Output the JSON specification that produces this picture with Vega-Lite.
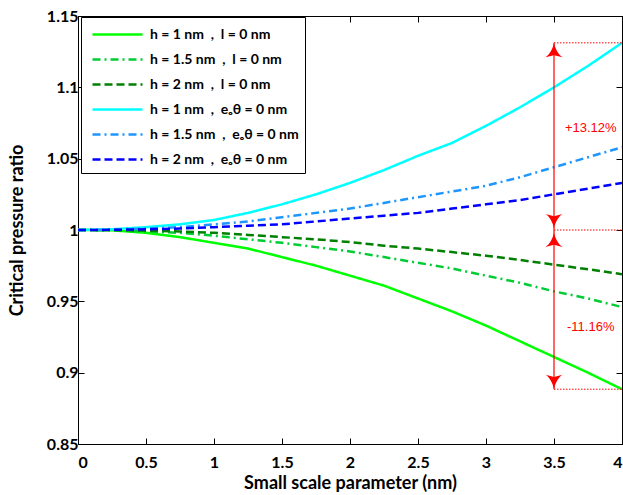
{
  "$schema": "https://vega.github.io/schema/vega-lite/v6.json",
  "width": 544,
  "height": 428,
  "autosize": {"type": "none"},
  "padding": {"left": 78, "top": 16, "right": 1, "bottom": 51},
  "background": "white",
  "config": {
    "view": {"stroke": "black", "strokeWidth": 1},
    "font": "Lato",
    "axis": {
      "grid": false,
      "domainColor": "black",
      "domainWidth": 1,
      "tickColor": "black",
      "tickWidth": 1,
      "tickSize": -6,
      "labelFont": "Lato",
      "labelFontWeight": "bold",
      "labelFontSize": 16,
      "labelColor": "black",
      "titleFont": "Lato",
      "titleFontWeight": "bold",
      "titleFontSize": 18,
      "titleColor": "black"
    }
  },
  "datasets": {
    "curves": [
      {"s": "A", "x": 0, "y": 1}, {"s": "A", "x": 0.25, "y": 0.9998}, {"s": "A", "x": 0.5, "y": 0.998}, {"s": "A", "x": 0.75, "y": 0.995},
      {"s": "A", "x": 1, "y": 0.991}, {"s": "A", "x": 1.25, "y": 0.987}, {"s": "A", "x": 1.5, "y": 0.981}, {"s": "A", "x": 1.75, "y": 0.975},
      {"s": "A", "x": 2, "y": 0.968}, {"s": "A", "x": 2.25, "y": 0.961}, {"s": "A", "x": 2.5, "y": 0.952}, {"s": "A", "x": 2.75, "y": 0.943},
      {"s": "A", "x": 3, "y": 0.933}, {"s": "A", "x": 3.25, "y": 0.922}, {"s": "A", "x": 3.5, "y": 0.911}, {"s": "A", "x": 3.75, "y": 0.9},
      {"s": "A", "x": 4, "y": 0.8884},
      {"s": "B", "x": 0, "y": 1}, {"s": "B", "x": 0.25, "y": 0.9998}, {"s": "B", "x": 0.5, "y": 0.999}, {"s": "B", "x": 0.75, "y": 0.998},
      {"s": "B", "x": 1, "y": 0.996}, {"s": "B", "x": 1.25, "y": 0.9935}, {"s": "B", "x": 1.5, "y": 0.991}, {"s": "B", "x": 1.75, "y": 0.988},
      {"s": "B", "x": 2, "y": 0.985}, {"s": "B", "x": 2.25, "y": 0.981}, {"s": "B", "x": 2.5, "y": 0.977}, {"s": "B", "x": 2.75, "y": 0.973},
      {"s": "B", "x": 3, "y": 0.968}, {"s": "B", "x": 3.25, "y": 0.963}, {"s": "B", "x": 3.5, "y": 0.957}, {"s": "B", "x": 3.75, "y": 0.952},
      {"s": "B", "x": 4, "y": 0.946},
      {"s": "C", "x": 0, "y": 1}, {"s": "C", "x": 0.25, "y": 1}, {"s": "C", "x": 0.5, "y": 0.9995}, {"s": "C", "x": 0.75, "y": 0.999},
      {"s": "C", "x": 1, "y": 0.998}, {"s": "C", "x": 1.25, "y": 0.9965}, {"s": "C", "x": 1.5, "y": 0.995}, {"s": "C", "x": 1.75, "y": 0.9935},
      {"s": "C", "x": 2, "y": 0.9915}, {"s": "C", "x": 2.25, "y": 0.989}, {"s": "C", "x": 2.5, "y": 0.987}, {"s": "C", "x": 2.75, "y": 0.9845},
      {"s": "C", "x": 3, "y": 0.982}, {"s": "C", "x": 3.25, "y": 0.979}, {"s": "C", "x": 3.5, "y": 0.9757}, {"s": "C", "x": 3.75, "y": 0.9725},
      {"s": "C", "x": 4, "y": 0.969},
      {"s": "D", "x": 0, "y": 1}, {"s": "D", "x": 0.25, "y": 1.0005}, {"s": "D", "x": 0.5, "y": 1.002}, {"s": "D", "x": 0.75, "y": 1.004},
      {"s": "D", "x": 1, "y": 1.007}, {"s": "D", "x": 1.25, "y": 1.012}, {"s": "D", "x": 1.5, "y": 1.018}, {"s": "D", "x": 1.75, "y": 1.025},
      {"s": "D", "x": 2, "y": 1.033}, {"s": "D", "x": 2.25, "y": 1.042}, {"s": "D", "x": 2.5, "y": 1.052}, {"s": "D", "x": 2.75, "y": 1.061},
      {"s": "D", "x": 3, "y": 1.073}, {"s": "D", "x": 3.25, "y": 1.086}, {"s": "D", "x": 3.5, "y": 1.1}, {"s": "D", "x": 3.75, "y": 1.115},
      {"s": "D", "x": 4, "y": 1.1312},
      {"s": "E", "x": 0, "y": 1}, {"s": "E", "x": 0.25, "y": 1.0003}, {"s": "E", "x": 0.5, "y": 1.001}, {"s": "E", "x": 0.75, "y": 1.002},
      {"s": "E", "x": 1, "y": 1.004}, {"s": "E", "x": 1.25, "y": 1.006}, {"s": "E", "x": 1.5, "y": 1.009}, {"s": "E", "x": 1.75, "y": 1.012},
      {"s": "E", "x": 2, "y": 1.015}, {"s": "E", "x": 2.25, "y": 1.019}, {"s": "E", "x": 2.5, "y": 1.023}, {"s": "E", "x": 2.75, "y": 1.027},
      {"s": "E", "x": 3, "y": 1.031}, {"s": "E", "x": 3.25, "y": 1.037}, {"s": "E", "x": 3.5, "y": 1.044}, {"s": "E", "x": 3.75, "y": 1.051},
      {"s": "E", "x": 4, "y": 1.058},
      {"s": "F", "x": 0, "y": 1}, {"s": "F", "x": 0.25, "y": 1.0001}, {"s": "F", "x": 0.5, "y": 1.0005}, {"s": "F", "x": 0.75, "y": 1.001},
      {"s": "F", "x": 1, "y": 1.002}, {"s": "F", "x": 1.25, "y": 1.003}, {"s": "F", "x": 1.5, "y": 1.004}, {"s": "F", "x": 1.75, "y": 1.006},
      {"s": "F", "x": 2, "y": 1.008}, {"s": "F", "x": 2.25, "y": 1.01}, {"s": "F", "x": 2.5, "y": 1.012}, {"s": "F", "x": 2.75, "y": 1.015},
      {"s": "F", "x": 3, "y": 1.018}, {"s": "F", "x": 3.25, "y": 1.021}, {"s": "F", "x": 3.5, "y": 1.025}, {"s": "F", "x": 3.75, "y": 1.029},
      {"s": "F", "x": 4, "y": 1.033}
    ]
  },
  "resolve": {"axis": {"x": "independent", "y": "independent"}},
  "layer": [
    {
      "data": {"name": "curves"},
      "transform": [
        {"lookup": "s", "from": {"data": {"values": [
          {"s": "A", "label": "h = 1 nm\u00a0 ,\u00a0 l = 0 nm"},
          {"s": "B", "label": "h = 1.5 nm\u00a0 ,\u00a0 l = 0 nm"},
          {"s": "C", "label": "h = 2 nm\u00a0 ,\u00a0 l = 0 nm"},
          {"s": "D", "label": "h = 1 nm\u00a0 ,\u00a0 e\u2092\u03b8 = 0 nm"},
          {"s": "E", "label": "h = 1.5 nm\u00a0 ,\u00a0 e\u2092\u03b8 = 0 nm"},
          {"s": "F", "label": "h = 2 nm\u00a0 ,\u00a0 e\u2092\u03b8 = 0 nm"}
        ]}, "key": "s", "fields": ["label"]}}
      ],
      "mark": {"type": "line", "strokeWidth": 2.5, "clip": true},
      "encoding": {
        "x": {
          "field": "x", "type": "quantitative",
          "scale": {"domain": [0, 4], "nice": false, "zero": false},
          "axis": {"orient": "bottom", "values": [0, 0.5, 1, 1.5, 2, 2.5, 3, 3.5, 4], "format": "~g", "labelPadding": 16, "title": "Small scale parameter (nm)", "titlePadding": 4}
        },
        "y": {
          "field": "y", "type": "quantitative",
          "scale": {"domain": [0.85, 1.15], "nice": false, "zero": false},
          "axis": {"orient": "left", "values": [0.85, 0.9, 0.95, 1, 1.05, 1.1, 1.15], "format": "~g", "labelPadding": 6, "title": "Critical pressure ratio", "titlePadding": 20}
        },
        "color": {
          "field": "label", "type": "nominal", "sort": null,
          "scale": {
            "domain": ["h = 1 nm\u00a0 ,\u00a0 l = 0 nm", "h = 1.5 nm\u00a0 ,\u00a0 l = 0 nm", "h = 2 nm\u00a0 ,\u00a0 l = 0 nm", "h = 1 nm\u00a0 ,\u00a0 e\u2092\u03b8 = 0 nm", "h = 1.5 nm\u00a0 ,\u00a0 e\u2092\u03b8 = 0 nm", "h = 2 nm\u00a0 ,\u00a0 e\u2092\u03b8 = 0 nm"],
            "range": ["#00ff00", "#00cc33", "#008000", "#00ffff", "#1e96ff", "#0000ff"]
          },
          "legend": {
            "title": null, "orient": "none", "legendX": 3, "legendY": 1,
            "strokeColor": "black", "fillColor": "white", "padding": 6,
            "symbolType": "M-2.5,0H2.5", "symbolSize": 400, "symbolStrokeWidth": 2.5, "symbolOffset": 19,
            "labelFont": "Lato", "labelFontWeight": "bold", "labelFontSize": 14, "labelColor": "black",
            "labelLimit": 300, "rowPadding": 6, "labelOffset": 21
          }
        },
        "strokeDash": {
          "field": "label", "type": "nominal", "sort": null,
          "scale": {
            "domain": ["h = 1 nm\u00a0 ,\u00a0 l = 0 nm", "h = 1.5 nm\u00a0 ,\u00a0 l = 0 nm", "h = 2 nm\u00a0 ,\u00a0 l = 0 nm", "h = 1 nm\u00a0 ,\u00a0 e\u2092\u03b8 = 0 nm", "h = 1.5 nm\u00a0 ,\u00a0 e\u2092\u03b8 = 0 nm", "h = 2 nm\u00a0 ,\u00a0 e\u2092\u03b8 = 0 nm"],
            "range": [[1, 0], [8, 4, 2, 4], [8, 4], [1, 0], [8, 4, 2, 4], [8, 4]]
          },
          "legend": {
            "title": null, "orient": "none", "legendX": 3, "legendY": 1,
            "strokeColor": "black", "fillColor": "white", "padding": 6,
            "symbolType": "M-2.5,0H2.5", "symbolSize": 400, "symbolStrokeWidth": 2.5, "symbolOffset": 19,
            "labelFont": "Lato", "labelFontWeight": "bold", "labelFontSize": 14, "labelColor": "black",
            "labelLimit": 300, "rowPadding": 6, "labelOffset": 21
          }
        }
      }
    },
    {
      "data": {"name": "curves"},
      "mark": {"type": "point", "opacity": 0},
      "encoding": {
        "x": {"field": "x", "type": "quantitative", "scale": {"domain": [0, 4], "nice": false, "zero": false},
          "axis": {"orient": "top", "values": [0, 0.5, 1, 1.5, 2, 2.5, 3, 3.5, 4], "labels": false, "title": null}},
        "y": {"field": "y", "type": "quantitative", "scale": {"domain": [0.85, 1.15], "nice": false, "zero": false},
          "axis": {"orient": "right", "values": [0.85, 0.9, 0.95, 1, 1.05, 1.1, 1.15], "labels": false, "title": null}}
      }
    },
    {
      "data": {"values": [{"x": 3.5, "x2": 4, "y": 1.1312}, {"x": 3.5, "x2": 4, "y": 1.0}, {"x": 3.5, "x2": 4, "y": 0.8884}]},
      "mark": {"type": "rule", "color": "#ff0000", "strokeWidth": 1, "strokeDash": [1.5, 1.5]},
      "encoding": {
        "x": {"field": "x", "type": "quantitative", "axis": null},
        "x2": {"field": "x2"},
        "y": {"field": "y", "type": "quantitative", "axis": null}
      }
    },
    {
      "data": {"values": [{"x": 3.5, "lo": 0.8884, "hi": 1.1312}]},
      "mark": {"type": "rule", "color": "#ff0000", "strokeWidth": 1.2},
      "encoding": {
        "x": {"field": "x", "type": "quantitative", "axis": null},
        "y": {"field": "lo", "type": "quantitative", "axis": null},
        "y2": {"field": "hi"}
      }
    },
    {
      "data": {"values": [{"x": 3.5, "y": 1.1312}]},
      "mark": {"type": "point", "filled": true, "color": "#ff0000", "opacity": 1, "size": 290, "yOffset": 8.5,
        "shape": "M0,-1 C0.15,-0.3 0.5,0.4 1,0.7 L0,0.45 L-1,0.7 C-0.5,0.4 -0.15,-0.3 0,-1 Z"},
      "encoding": {
        "x": {"field": "x", "type": "quantitative", "axis": null},
        "y": {"field": "y", "type": "quantitative", "axis": null}
      }
    },
    {
      "data": {"values": [{"x": 3.5, "y": 1.0}]},
      "mark": {"type": "point", "filled": true, "color": "#ff0000", "opacity": 1, "size": 290, "yOffset": 11,
        "shape": "M0,-1 C0.15,-0.3 0.5,0.4 1,0.7 L0,0.45 L-1,0.7 C-0.5,0.4 -0.15,-0.3 0,-1 Z"},
      "encoding": {
        "x": {"field": "x", "type": "quantitative", "axis": null},
        "y": {"field": "y", "type": "quantitative", "axis": null}
      }
    },
    {
      "data": {"values": [{"x": 3.5, "y": 1.0}]},
      "mark": {"type": "point", "filled": true, "color": "#ff0000", "opacity": 1, "size": 290, "yOffset": -10,
        "shape": "M0,1 C0.15,0.3 0.5,-0.4 1,-0.7 L0,-0.45 L-1,-0.7 C-0.5,-0.4 -0.15,0.3 0,1 Z"},
      "encoding": {
        "x": {"field": "x", "type": "quantitative", "axis": null},
        "y": {"field": "y", "type": "quantitative", "axis": null}
      }
    },
    {
      "data": {"values": [{"x": 3.5, "y": 0.8884}]},
      "mark": {"type": "point", "filled": true, "color": "#ff0000", "opacity": 1, "size": 290, "yOffset": -8.5,
        "shape": "M0,1 C0.15,0.3 0.5,-0.4 1,-0.7 L0,-0.45 L-1,-0.7 C-0.5,-0.4 -0.15,0.3 0,1 Z"},
      "encoding": {
        "x": {"field": "x", "type": "quantitative", "axis": null},
        "y": {"field": "y", "type": "quantitative", "axis": null}
      }
    },
    {
      "data": {"values": [{"x": 3.77, "y": 1.0715, "text": "+13.12%"}, {"x": 3.77, "y": 0.932, "text": "-11.16%"}]},
      "mark": {"type": "text", "color": "#ff0000", "font": "Liberation Sans", "fontSize": 13, "align": "center", "baseline": "middle"},
      "encoding": {
        "x": {"field": "x", "type": "quantitative", "axis": null},
        "y": {"field": "y", "type": "quantitative", "axis": null},
        "text": {"field": "text"}
      }
    }
  ]
}
